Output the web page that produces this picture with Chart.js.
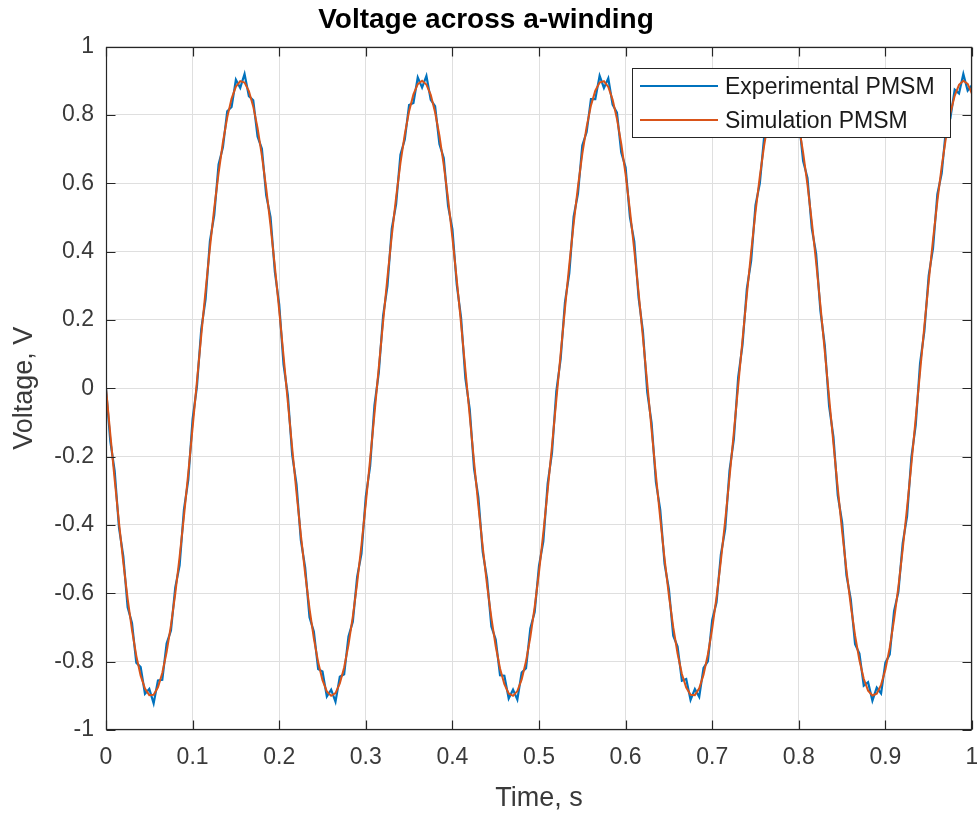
<!DOCTYPE html>
<html><head><meta charset="utf-8">
<script src="https://cdn.jsdelivr.net/npm/chart.js@4"></script>
<style>html,body{margin:0;padding:0;background:#fff}canvas{display:block}</style>
</head><body>
<canvas id="c" width="977" height="815"></canvas>
<script>
const titleText = 'Voltage across a-winding';
const xLabel = 'Time, s';
const yLabel = 'Voltage, V';
const seriesNames = ['Experimental PMSM', 'Simulation PMSM'];
const seriesColors = ['#0072BD', '#D95319'];
const xTickValues = [0, 0.1, 0.2, 0.3, 0.4, 0.5, 0.6, 0.7, 0.8, 0.9, 1];
const yTickValues = [-1, -0.8, -0.6, -0.4, -0.2, 0, 0.2, 0.4, 0.6, 0.8, 1];

const timeS = [
0,0.005,0.01,0.015,0.02,0.025,0.03,0.035,0.04,0.045,
0.05,0.055,0.06,0.065,0.07,0.075,0.08,0.085,0.09,0.095,
0.1,0.105,0.11,0.115,0.12,0.125,0.13,0.135,0.14,0.145,
0.15,0.155,0.16,0.165,0.17,0.175,0.18,0.185,0.19,0.195,
0.2,0.205,0.21,0.215,0.22,0.225,0.23,0.235,0.24,0.245,
0.25,0.255,0.26,0.265,0.27,0.275,0.28,0.285,0.29,0.295,
0.3,0.305,0.31,0.315,0.32,0.325,0.33,0.335,0.34,0.345,
0.35,0.355,0.36,0.365,0.37,0.375,0.38,0.385,0.39,0.395,
0.4,0.405,0.41,0.415,0.42,0.425,0.43,0.435,0.44,0.445,
0.45,0.455,0.46,0.465,0.47,0.475,0.48,0.485,0.49,0.495,
0.5,0.505,0.51,0.515,0.52,0.525,0.53,0.535,0.54,0.545,
0.55,0.555,0.56,0.565,0.57,0.575,0.58,0.585,0.59,0.595,
0.6,0.605,0.61,0.615,0.62,0.625,0.63,0.635,0.64,0.645,
0.65,0.655,0.66,0.665,0.67,0.675,0.68,0.685,0.69,0.695,
0.7,0.705,0.71,0.715,0.72,0.725,0.73,0.735,0.74,0.745,
0.75,0.755,0.76,0.765,0.77,0.775,0.78,0.785,0.79,0.795,
0.8,0.805,0.81,0.815,0.82,0.825,0.83,0.835,0.84,0.845,
0.85,0.855,0.86,0.865,0.87,0.875,0.88,0.885,0.89,0.895,
0.9,0.905,0.91,0.915,0.92,0.925,0.93,0.935,0.94,0.945,
0.95,0.955,0.96,0.965,0.97,0.975,0.98,0.985,0.99,0.995,
1];

const experimentalPMSM = [
0,-0.155,-0.242,-0.408,-0.492,-0.641,-0.687,-0.803,-0.816,-0.894,
-0.880,-0.922,-0.855,-0.853,-0.747,-0.709,-0.583,-0.518,-0.355,-0.268,
-0.090,0.005,0.173,0.261,0.431,0.507,0.655,0.705,0.811,0.823,
0.903,0.879,0.920,0.855,0.843,0.737,0.701,0.565,0.501,0.341,
0.246,0.070,-0.021,-0.195,-0.281,-0.444,-0.525,-0.670,-0.712,-0.822,
-0.829,-0.902,-0.882,-0.917,-0.844,-0.837,-0.726,-0.683,-0.552,-0.484,
-0.317,-0.228,-0.050,0.046,0.213,0.300,0.467,0.539,0.684,0.728,
0.829,0.835,0.910,0.880,0.914,0.844,0.826,0.715,0.674,0.534,
0.466,0.304,0.207,0.029,-0.061,-0.235,-0.319,-0.479,-0.557,-0.697,
-0.735,-0.840,-0.841,-0.908,-0.882,-0.911,-0.832,-0.819,-0.703,-0.655,
-0.520,-0.448,-0.279,-0.189,-0.009,0.086,0.252,0.337,0.502,0.570,
0.711,0.750,0.846,0.846,0.915,0.879,0.907,0.830,0.807,0.690,
0.646,0.501,0.430,0.265,0.167,-0.011,-0.101,-0.274,-0.356,-0.514,
-0.588,-0.724,-0.756,-0.856,-0.851,-0.912,-0.880,-0.903,-0.818,-0.799,
-0.678,-0.626,-0.487,-0.412,-0.241,-0.149,0.032,0.127,0.291,0.374,
0.536,0.600,0.736,0.771,0.861,0.856,0.919,0.876,0.898,0.816,
0.787,0.665,0.616,0.468,0.394,0.226,0.126,-0.052,-0.142,-0.313,
-0.392,-0.547,-0.617,-0.749,-0.776,-0.870,-0.860,-0.914,-0.876,-0.893,
-0.803,-0.779,-0.652,-0.596,-0.453,-0.375,-0.202,-0.108,0.072,0.167,
0.330,0.410,0.568,0.629,0.760,0.790,0.874,0.863,0.920,0.871,
0.887];

const simulationPMSM = [
0,-0.135,-0.267,-0.393,-0.510,-0.616,-0.707,-0.783,-0.841,-0.879,
-0.898,-0.897,-0.875,-0.833,-0.772,-0.694,-0.601,-0.493,-0.375,-0.248,
-0.115,0.020,0.155,0.286,0.411,0.527,0.630,0.720,0.793,0.848,
0.883,0.899,0.895,0.870,0.825,0.762,0.681,0.585,0.476,0.356,
0.228,0.095,-0.041,-0.175,-0.306,-0.429,-0.543,-0.645,-0.732,-0.802,
-0.854,-0.887,-0.900,-0.892,-0.864,-0.817,-0.751,-0.668,-0.570,-0.459,
-0.337,-0.208,-0.075,0.061,0.195,0.325,0.447,0.559,0.659,0.743,
0.811,0.860,0.890,0.900,0.889,0.859,0.808,0.740,0.654,0.554,
0.441,0.319,0.189,0.054,-0.081,-0.215,-0.344,-0.464,-0.575,-0.672,
-0.755,-0.820,-0.866,-0.893,-0.900,-0.886,-0.852,-0.799,-0.728,-0.640,
-0.538,-0.423,-0.299,-0.169,-0.034,0.101,0.234,0.362,0.482,0.590,
0.686,0.765,0.828,0.871,0.895,0.899,0.882,0.845,0.789,0.715,
0.626,0.521,0.405,0.280,0.149,0.014,-0.121,-0.254,-0.381,-0.499,
-0.606,-0.699,-0.776,-0.836,-0.876,-0.897,-0.898,-0.878,-0.838,-0.779,
-0.703,-0.611,-0.505,-0.387,-0.261,-0.129,0.007,0.142,0.273,0.399,
0.516,0.620,0.711,0.786,0.843,0.881,0.899,0.896,0.873,0.831,
0.769,0.690,0.596,0.488,0.369,0.241,0.108,-0.027,-0.162,-0.293,
-0.417,-0.532,-0.635,-0.724,-0.796,-0.850,-0.885,-0.899,-0.894,-0.868,
-0.823,-0.759,-0.677,-0.581,-0.471,-0.350,-0.222,-0.088,0.047,0.182,
0.312,0.435,0.548,0.649,0.735,0.805,0.856,0.888,0.900,0.891,
0.862];

const FONT = '"Liberation Sans", Arial, Helvetica, sans-serif';
const AXIS_COLOR = '#262626';
const TICK_TEXT = '#3a3a3a';

const toPoints = (xs, ys) => xs.map((x, i) => ({x: x, y: ys[i]}));
const fmt = v => String(Math.round(v * 10) / 10);

const matlabBox = {
  id: 'matlabBox',
  afterDatasetsDraw(chart) {
    const ctx = chart.ctx;
    const a = chart.chartArea;
    const xs = chart.scales.x, ys = chart.scales.y;
    const L = Math.round(a.left) + 0.5, R = Math.round(a.right) - 0.5;
    const T = Math.round(a.top) + 0.5, B = Math.round(a.bottom) - 0.5;
    const tl = 9;
    ctx.save();
    ctx.strokeStyle = AXIS_COLOR;
    ctx.lineWidth = 1.2;
    ctx.beginPath();
    xTickValues.forEach(v => {
      const p = Math.round(xs.getPixelForValue(v)) + 0.5;
      ctx.moveTo(p, B); ctx.lineTo(p, B - tl);
      ctx.moveTo(p, T); ctx.lineTo(p, T + tl);
    });
    yTickValues.forEach(v => {
      const p = Math.round(ys.getPixelForValue(v)) + 0.5;
      ctx.moveTo(L, p); ctx.lineTo(L + tl, p);
      ctx.moveTo(R, p); ctx.lineTo(R - tl, p);
    });
    ctx.stroke();
    ctx.strokeRect(L, T, R - L, B - T);

    // legend
    const lx = 632.5, ly = 68.5, lw = 318, lh = 69;
    ctx.fillStyle = '#ffffff';
    ctx.fillRect(lx, ly, lw, lh);
    ctx.lineWidth = 1;
    ctx.strokeStyle = AXIS_COLOR;
    ctx.strokeRect(lx, ly, lw, lh);
    const rows = [86, 120];
    ctx.font = '23px ' + FONT;
    ctx.textBaseline = 'middle';
    ctx.textAlign = 'left';
    seriesNames.forEach((name, i) => {
      ctx.strokeStyle = seriesColors[i];
      ctx.lineWidth = 2;
      ctx.beginPath();
      ctx.moveTo(640, rows[i]); ctx.lineTo(718, rows[i]);
      ctx.stroke();
      ctx.fillStyle = '#1a1a1a';
      ctx.fillText(name, 725, rows[i] + 2);
    });
    ctx.restore();
  }
};

new Chart(document.getElementById('c'), {
  type: 'line',
  data: {
    datasets: [
      {label: seriesNames[0], data: toPoints(timeS, experimentalPMSM), borderColor: seriesColors[0],
       borderWidth: 2.2, pointRadius: 0, tension: 0, order: 2},
      {label: seriesNames[1], data: toPoints(timeS, simulationPMSM), borderColor: seriesColors[1],
       borderWidth: 2, pointRadius: 0, tension: 0, order: 1}
    ]
  },
  options: {
    responsive: false,
    animation: false,
    events: [],
    layout: {padding: {left: 0, right: 5, top: 0, bottom: 0}},
    plugins: {
      legend: {display: false},
      tooltip: {enabled: false},
      title: {display: true, text: titleText, color: '#000',
              font: {family: FONT, size: 28, weight: 'bold', lineHeight: 1.2},
              padding: {top: 3, bottom: 10}}
    },
    scales: {
      x: {
        type: 'linear', min: 0, max: 1,
        afterBuildTicks: s => { s.ticks = xTickValues.map(v => ({value: v})); },
        afterFit: s => { s.height = 85; s.paddingLeft = 0; s.paddingRight = 0; },
        grid: {color: '#dfdfdf', lineWidth: 1, drawTicks: false},
        border: {display: false},
        ticks: {padding: 14, color: TICK_TEXT, font: {family: FONT, size: 23}, maxRotation: 0,
                callback: v => fmt(v)},
        title: {display: true, text: xLabel, color: TICK_TEXT,
                font: {family: FONT, size: 27, lineHeight: 1.2}, padding: {top: 2, bottom: 0}}
      },
      y: {
        type: 'linear', min: -1, max: 1,
        afterBuildTicks: s => { s.ticks = yTickValues.map(v => ({value: v})); },
        afterFit: s => { s.width = 106; s.paddingTop = 0; s.paddingBottom = 0; },
        grid: {color: '#dfdfdf', lineWidth: 1, drawTicks: false},
        border: {display: false},
        ticks: {padding: 12, color: TICK_TEXT, font: {family: FONT, size: 23},
                callback: v => fmt(v)},
        title: {display: true, text: yLabel, color: TICK_TEXT,
                font: {family: FONT, size: 27, lineHeight: 1.2}, padding: {top: 8, bottom: 0}}
      }
    }
  },
  plugins: [matlabBox]
});
</script>
</body></html>
